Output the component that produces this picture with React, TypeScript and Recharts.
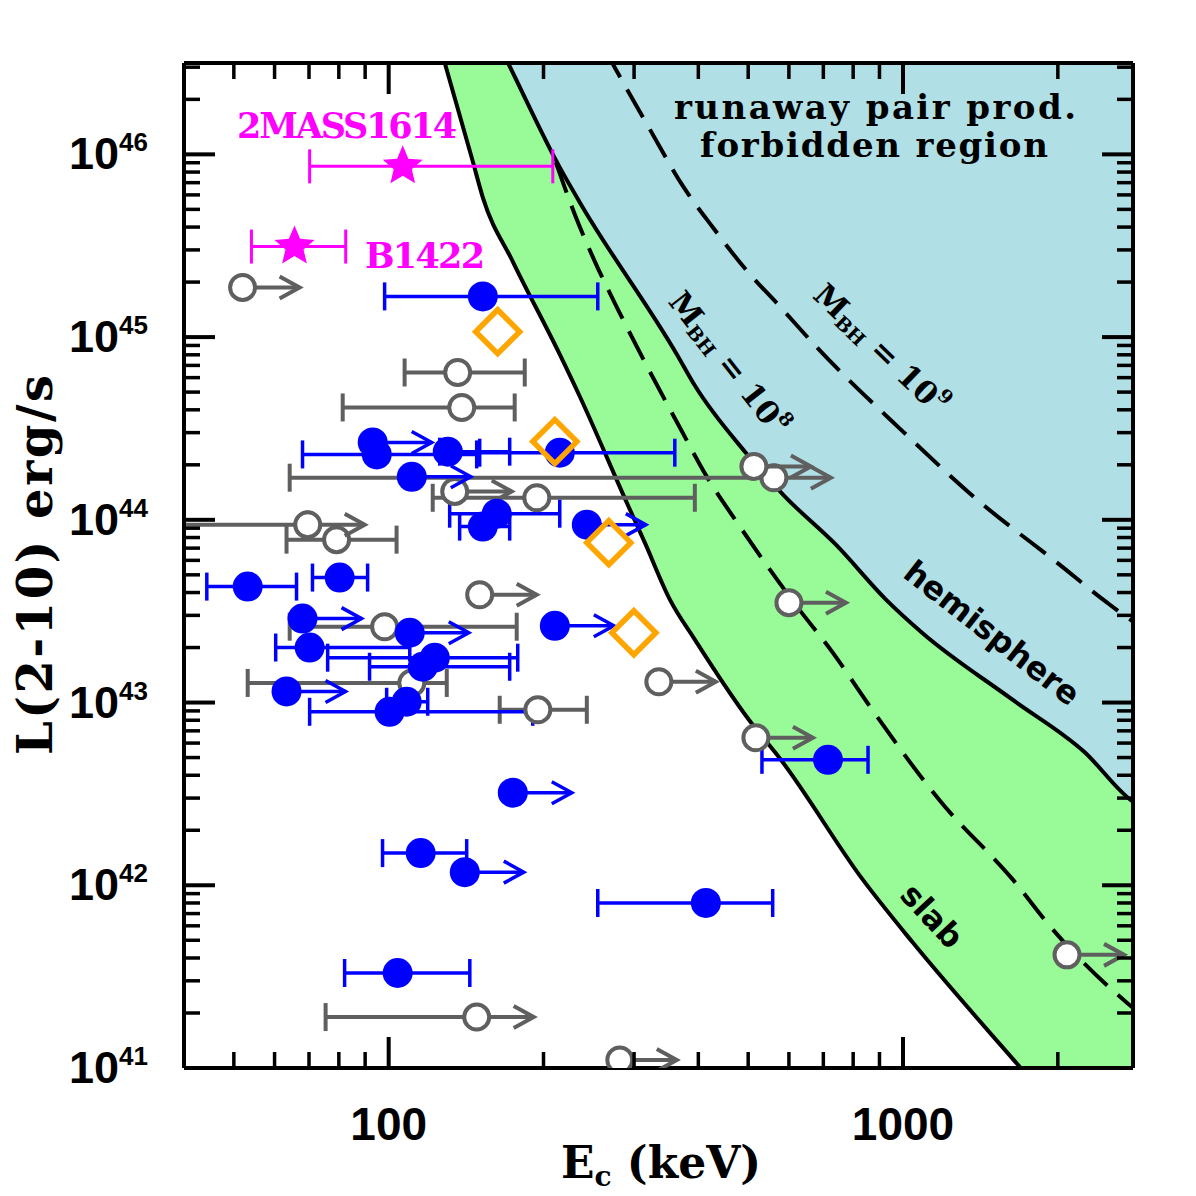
import React from 'react';
import { ComposedChart, XAxis, YAxis, Scatter, ErrorBar, Line, Area } from 'recharts';

// Axis ranges: cutoff energy (keV) and 2-10 keV luminosity (erg/s)
const EC_MIN = 40;
const EC_MAX = 2800;
const L_MIN = 1e41;
const L_MAX = 3.1623e46;

const ecTicks = [50, 60, 70, 80, 90, 100, 200, 300, 400, 500, 600, 700, 800, 900, 1000, 2000];
const ecMajorTicks = [100, 1000];
const lumExponents = [41, 42, 43, 44, 45, 46];
const lumMinorSteps = [2, 3, 4, 5, 6, 7, 8, 9];

// Pair-production limits, [Ec, L]
const slabCurve = [
  [128, 3.3e46], [145.7, 9.16e45], [152.4, 5.82e45], [174.3, 2.59e45], [215.1, 8.04e44],
  [235.3, 4.73e44], [290.4, 1.24e44], [314.8, 7.5e43], [352.2, 3.66e43], [393.8, 2.21e43],
  [501.6, 8.05e42], [578.9, 4.86e42], [835.9, 1.07e42], [1045.9, 4.84e41], [1689, 1.01e41],
  [2800, 2.0e40],
];
const hemisphereCurve = [
  [166, 3.7e46], [170.4, 3.19e46], [215.1, 8.49e45], [235.3, 5.46e45], [363.4, 8.04e44],
  [393.8, 5.43e44], [492.7, 2.36e44], [589.5, 1.34e44], [740.6, 7.31e43], [926.7, 3.66e43],
  [1089, 2.41e43], [1630, 1.04e43], [2250, 5.38e42], [2803, 2.86e42], [2900, 2.7e42],
];
const mbh8Curve = [
  [211.3, 9.04e45], [230.1, 4.69e45], [251.7, 2.59e45], [279, 1.42e45], [309.2, 8.04e44],
  [370, 3.12e44], [415.6, 1.72e44], [477.5, 9.53e43], [622.2, 3.35e43], [730.8, 1.87e43],
  [855, 9.85e42], [1180, 2.9e42], [1637, 1.07e42], [1958, 5.7e41], [2728, 2.27e41],
  [2850, 2.05e41],
];
const mbh9Curve = [
  [263, 3.76e46], [271.6, 3.19e46], [322, 1.37e46], [374.8, 6.59e45], [427, 3.98e45],
  [490.6, 2.41e45], [578.9, 1.45e45], [680.3, 8.77e44], [1000, 3.04e44], [1393, 1.29e44],
  [1993, 5.83e43], [2494, 3.52e43], [2803, 2.77e43], [2900, 2.6e43],
];

// Blue sources: [Ec, L, Ec low, Ec high]
const blueMeasured = [
  [152.4, 1.67e45, 98.2, 255],
  [94.8, 2.28e44, 68.0, 148.3],
  [130.3, 2.36e44, 125.7, 171.9],
  [215.1, 2.33e44, 150.3, 360],
  [162.2, 1.08e44, 131.4, 215.1],
  [152.4, 9.18e43, 137.4, 171.9],
  [53.2, 4.31e43, 44.3, 66.2],
  [80.3, 4.83e43, 71.1, 91.0],
  [70.2, 2.0e43, 60.3, 109.9],
  [122.9, 1.76e43, 76.1, 178.2],
  [116.5, 1.57e43, 91.8, 171.9],
  [108.4, 1.01e43, 99.1, 119.1],
  [100.4, 8.9e42, 70.2, 190.6],
  [115.4, 1.5e42, 97.3, 141.8],
  [413.7, 8.0e41, 255, 558],
  [104.1, 3.31e41, 82.1, 143.8],
  [714.7, 4.86e42, 531.8, 855],
];
// Blue lower limits on Ec: [Ec, L]
const blueLowerLimits = [
  [93.1, 2.65e44], [110.9, 1.72e44], [242.8, 9.41e43], [68.0, 2.88e43], [109.9, 2.41e43],
  [210.4, 2.63e43], [63.3, 1.15e43], [174.3, 3.21e42], [140.6, 1.18e42],
];

// Grey sources: [Ec, L, Ec low, Ec high]
const greyMeasured = [
  [136.2, 6.4e44, 107.4, 183.9],
  [138.7, 4.12e44, 81.4, 175.8],
  [194.1, 1.32e44, 121.8, 393.8],
  [79.2, 7.79e43, 63.3, 103.6],
  [98.2, 2.6e43, 64.2, 177.4],
  [110.9, 1.28e43, 53.2, 129.7],
  [195, 9.13e42, 164.4, 242.8],
];
// Grey lower limits with a lower error (the second one runs off the axis): [Ec, L, Ec low]
const greyBoundedLimits = [
  [561, 1.7e44, 64.2],
  [69.6, 9.41e43, 40],
  [148.3, 1.9e41, 75.4],
];
// Grey lower limits: [Ec, L]
const greyLowerLimits = [
  [52.0, 1.87e45], [134.4, 1.43e44], [513, 1.96e44], [150.3, 3.89e43], [335.2, 1.3e43],
  [517.6, 6.42e42], [600.1, 3.52e43], [2084, 4.16e41], [281.4, 1.106e41],
];

// Orange sources: [Ec, L]
const orangeSources = [[162.9, 1.07e45], [210.4, 2.68e44], [267.9, 7.5e43], [299.7, 2.41e43]];

// High-luminosity quasars: [Ec, L, Ec low, Ec high]
const quasarNames = ['2MASS1614', 'B1422'];
const quasarValues = [
  [106.5, 8.6e45, 70.2, 208.5],
  [65.6, 3.13e45, 54.1, 82.5],
];

const BLUE = '#0000ff';
const GREY = '#5f5f5f';
const ORANGE = '#ffa500';
const MAGENTA = '#ff00ff';
const GREEN_FILL = '#98fb98';
const CYAN_FILL = '#b0dfe5';

const curveRows = (pts: number[][]) => pts.map(([ec, l]) => ({ ec, l }));
const withErrors = (rows: number[][], lim: boolean) =>
  rows.map(([ec, l, lo, hi]) => ({ ec, l, err: [ec - lo, (hi ?? ec) - ec], lim }));
const plainRows = (rows: number[][], lim: boolean) => rows.map(([ec, l]) => ({ ec, l, lim }));

const slabData = curveRows(slabCurve);
const hemiData = curveRows(hemisphereCurve);
const mbh8Data = curveRows(mbh8Curve);
const mbh9Data = curveRows(mbh9Curve);

const blueBarData = withErrors(blueMeasured, false);
const blueLimitData = plainRows(blueLowerLimits, true);
const greyBarData = [...withErrors(greyMeasured, false), ...withErrors(greyBoundedLimits, true)];
const greyDotData = [...greyBarData, ...plainRows(greyLowerLimits, true)];
const orangeData = plainRows(orangeSources, false);
const quasarData = quasarValues.map(([ec, l, lo, hi], i) => ({ ec, l, err: [ec - lo, hi - ec], name: quasarNames[i] }));

const lumTicks: number[] = [];
lumExponents.forEach((e) => {
  lumTicks.push(Math.pow(10, e));
  lumMinorSteps.forEach((m) => {
    const v = m * Math.pow(10, e);
    if (v < L_MAX) lumTicks.push(v);
  });
});
const isDecade = (v: number) => Math.abs(Math.log10(v) - Math.round(Math.log10(v))) < 1e-9;

const TICK_FONT = 'Liberation Sans, Arial, sans-serif';
const SERIF = 'DejaVu Serif, serif';
const SANS = 'DejaVu Sans, sans-serif';

const CHART_W = 1180;
const CHART_H = 1188;

function BottomTick(props: any) {
  const { x, y, payload } = props;
  const v = payload.value;
  const major = ecMajorTicks.includes(v);
  return (
    <g>
      <line x1={x} y1={y} x2={x} y2={y - (major ? 31 : 16)} stroke="#000" strokeWidth={major ? 4 : 3.5} />
      {major && (
        <text x={x} y={y + 72} textAnchor="middle" fontFamily={TICK_FONT} fontWeight="bold" fontSize={46} fill="#000">
          {v}
        </text>
      )}
    </g>
  );
}
function TopTick(props: any) {
  const { x, y, payload } = props;
  const major = ecMajorTicks.includes(payload.value);
  return <line x1={x} y1={y} x2={x} y2={y + (major ? 31 : 16)} stroke="#000" strokeWidth={major ? 4 : 3.5} />;
}
function LeftTick(props: any) {
  const { x, y, payload } = props;
  const major = isDecade(payload.value);
  return (
    <g>
      <line x1={x} y1={y} x2={x + (major ? 31 : 16)} y2={y} stroke="#000" strokeWidth={major ? 4 : 3.5} />
      {major && (
        <text x={x - 36} y={y + 15} textAnchor="end" fontFamily={TICK_FONT} fontWeight="bold" fontSize={45} fill="#000">
          10
          <tspan dy={-18} fontSize={26}>
            {Math.round(Math.log10(payload.value))}
          </tspan>
        </text>
      )}
    </g>
  );
}
function RightTick(props: any) {
  const { x, y, payload } = props;
  const major = isDecade(payload.value);
  return <line x1={x} y1={y} x2={x - (major ? 31 : 16)} y2={y} stroke="#000" strokeWidth={major ? 4 : 3.5} />;
}

function LimitArrow({ cx, cy, color, len, w }: any) {
  const tip = cx + len;
  return (
    <g stroke={color} strokeWidth={w} fill="none">
      <line x1={cx} y1={cy} x2={tip} y2={cy} />
      <polyline points={`${tip - 20},${cy - 11} ${tip},${cy} ${tip - 20},${cy + 11}`} strokeLinejoin="miter" />
    </g>
  );
}

const NoMark = () => <g />;

function GreyDot(props: any) {
  const { cx, cy, payload } = props;
  if (cx == null || cy == null) return <g />;
  return (
    <g>
      {payload.lim && <LimitArrow cx={cx} cy={cy} color={GREY} len={57} w={4} />}
      <circle cx={cx} cy={cy} r={12.5} fill="#fff" stroke={GREY} strokeWidth={4} />
    </g>
  );
}
function BlueDot(props: any) {
  const { cx, cy, payload } = props;
  if (cx == null || cy == null) return <g />;
  return (
    <g>
      {payload.lim && <LimitArrow cx={cx} cy={cy} color={BLUE} len={59} w={3.5} />}
      <circle cx={cx} cy={cy} r={15} fill={BLUE} />
    </g>
  );
}
function Diamond(props: any) {
  const { cx, cy } = props;
  if (cx == null || cy == null) return <g />;
  const r = 22;
  return (
    <polygon
      points={`${cx},${cy - r} ${cx + r},${cy} ${cx},${cy + r} ${cx - r},${cy}`}
      fill="none"
      stroke={ORANGE}
      strokeWidth={5.5}
      strokeLinejoin="miter"
    />
  );
}
function Star(props: any) {
  const { cx, cy } = props;
  if (cx == null || cy == null) return <g />;
  const pts: string[] = [];
  for (let i = 0; i < 10; i++) {
    const r = i % 2 === 0 ? 21 : 9.5;
    const a = -Math.PI / 2 + (i * Math.PI) / 5;
    pts.push(`${cx + r * Math.cos(a)},${cy + r * Math.sin(a)}`);
  }
  return <polygon points={pts.join(' ')} fill={MAGENTA} />;
}

const toTop = (d: any) => [d.l, L_MAX];

// Text drawn above the plot: region names, source names and axis titles
function Annotations() {
  return (
    <svg
      width={CHART_W}
      height={CHART_H}
      style={{ position: 'absolute', left: 0, top: 0, pointerEvents: 'none', overflow: 'visible' }}
    >
      <text x={867} y={111} textAnchor="middle" fontFamily={SERIF} fontWeight="bold" fontSize={34} textLength={402} fill="#000">
        runaway pair prod.
      </text>
      <text x={866} y={149} textAnchor="middle" fontFamily={SERIF} fontWeight="bold" fontSize={34} textLength={348} fill="#000">
        forbidden region
      </text>
      <text transform="translate(721,355) rotate(52)" textAnchor="middle" dominantBaseline="central" fontFamily={SERIF} fontWeight="bold" fontSize={31} fill="#000">
        M<tspan dy={8} fontSize={19}>BH</tspan>
        <tspan dy={-8}> = 10</tspan>
        <tspan dy={-11} fontSize={19}>8</tspan>
      </text>
      <text transform="translate(873,341) rotate(44)" textAnchor="middle" dominantBaseline="central" fontFamily={SERIF} fontWeight="bold" fontSize={31} fill="#000">
        M<tspan dy={8} fontSize={19}>BH</tspan>
        <tspan dy={-8}> = 10</tspan>
        <tspan dy={-11} fontSize={19}>9</tspan>
      </text>
      <text transform="translate(984,625) rotate(38)" textAnchor="middle" dominantBaseline="central" fontFamily={SANS} fontWeight="bold" fontSize={32} fill="#000">
        hemisphere
      </text>
      <text transform="translate(924,908) rotate(47)" textAnchor="middle" dominantBaseline="central" fontFamily={SANS} fontWeight="bold" fontSize={32} fill="#000">
        slab
      </text>
      <text x={339} y={130} textAnchor="middle" fontFamily={SERIF} fontWeight="bold" fontSize={35} textLength={220} fill={MAGENTA}>
        {quasarNames[0]}
      </text>
      <text x={417} y={260} textAnchor="middle" fontFamily={SERIF} fontWeight="bold" fontSize={35} textLength={120} fill={MAGENTA}>
        {quasarNames[1]}
      </text>
      <text x={653} y={1170} textAnchor="middle" fontFamily={SERIF} fontWeight="bold" fontSize={44} fill="#000">
        E<tspan dy={8} fontSize={28}>c</tspan>
        <tspan dy={-8}> (keV)</tspan>
      </text>
      <text transform="translate(44,557) rotate(-90)" textAnchor="middle" fontFamily={SERIF} fontWeight="bold" fontSize={48} textLength={380} fill="#000">
        L(2-10) erg/s
      </text>
    </svg>
  );
}

export default function App() {
  return (
    <div style={{ position: 'relative', width: CHART_W, height: CHART_H }}>
      <ComposedChart width={CHART_W} height={CHART_H} margin={{ top: 54, right: 54, bottom: 0, left: 0 }}>
        <XAxis
          xAxisId="b"
          dataKey="ec"
          type="number"
          scale="log"
          domain={[EC_MIN, EC_MAX]}
          allowDataOverflow
          ticks={ecTicks}
          interval={0}
          tick={<BottomTick />}
          tickLine={false}
          tickSize={0}
          tickMargin={0}
          axisLine={{ stroke: '#000', strokeWidth: 4 }}
          height={128}
        />
        <XAxis
          xAxisId="t"
          dataKey="ec"
          type="number"
          scale="log"
          orientation="top"
          domain={[EC_MIN, EC_MAX]}
          allowDataOverflow
          ticks={ecTicks}
          interval={0}
          tick={<TopTick />}
          tickLine={false}
          tickSize={0}
          tickMargin={0}
          axisLine={{ stroke: '#000', strokeWidth: 4 }}
          height={1}
        />
        <YAxis
          yAxisId="l"
          dataKey="l"
          type="number"
          scale="log"
          domain={[L_MIN, L_MAX]}
          allowDataOverflow
          ticks={lumTicks}
          interval={0}
          tick={<LeftTick />}
          tickLine={false}
          tickSize={0}
          tickMargin={0}
          axisLine={{ stroke: '#000', strokeWidth: 4 }}
          width={176}
        />
        <YAxis
          yAxisId="r"
          dataKey="l"
          type="number"
          scale="log"
          orientation="right"
          domain={[L_MIN, L_MAX]}
          allowDataOverflow
          ticks={lumTicks}
          interval={0}
          tick={<RightTick />}
          tickLine={false}
          tickSize={0}
          tickMargin={0}
          axisLine={{ stroke: '#000', strokeWidth: 4 }}
          width={1}
        />

        {/* Allowed / forbidden regions */}
        <Area xAxisId="b" yAxisId="l" data={slabData} dataKey={toTop} type="monotoneX" fill={GREEN_FILL} fillOpacity={1} stroke="none" isAnimationActive={false} />
        <Area xAxisId="b" yAxisId="l" data={hemiData} dataKey={toTop} type="monotoneX" fill={CYAN_FILL} fillOpacity={1} stroke="none" isAnimationActive={false} />

        <Line xAxisId="b" yAxisId="l" data={slabData} dataKey="l" type="monotoneX" stroke="#000" strokeWidth={4} dot={false} isAnimationActive={false} />
        <Line xAxisId="b" yAxisId="l" data={hemiData} dataKey="l" type="monotoneX" stroke="#000" strokeWidth={4} dot={false} isAnimationActive={false} />
        <Line xAxisId="b" yAxisId="l" data={mbh8Data} dataKey="l" type="monotoneX" stroke="#000" strokeWidth={4} strokeDasharray="32 14" dot={false} isAnimationActive={false} />
        <Line xAxisId="b" yAxisId="l" data={mbh9Data} dataKey="l" type="monotoneX" stroke="#000" strokeWidth={4} strokeDasharray="32 14" dot={false} isAnimationActive={false} />

        {/* Grey sources */}
        <Scatter xAxisId="b" yAxisId="l" data={greyBarData} shape={NoMark} isAnimationActive={false}>
          <ErrorBar dataKey="err" direction="x" width={14} stroke={GREY} strokeWidth={4} isAnimationActive={false} />
        </Scatter>
        <Scatter xAxisId="b" yAxisId="l" data={greyDotData} shape={GreyDot} isAnimationActive={false} />

        {/* Blue sources */}
        <Scatter xAxisId="b" yAxisId="l" data={blueBarData} shape={NoMark} isAnimationActive={false}>
          <ErrorBar dataKey="err" direction="x" width={14} stroke={BLUE} strokeWidth={3.5} isAnimationActive={false} />
        </Scatter>
        <Scatter xAxisId="b" yAxisId="l" data={blueBarData} shape={BlueDot} isAnimationActive={false} />
        <Scatter xAxisId="b" yAxisId="l" data={blueLimitData} shape={BlueDot} isAnimationActive={false} />

        {/* Orange sources */}
        <Scatter xAxisId="b" yAxisId="l" data={orangeData} shape={Diamond} isAnimationActive={false} />

        {/* Quasars */}
        <Scatter xAxisId="b" yAxisId="l" data={quasarData} shape={Star} isAnimationActive={false}>
          <ErrorBar dataKey="err" direction="x" width={17} stroke={MAGENTA} strokeWidth={3} isAnimationActive={false} />
        </Scatter>
      </ComposedChart>
      <Annotations />
    </div>
  );
}
